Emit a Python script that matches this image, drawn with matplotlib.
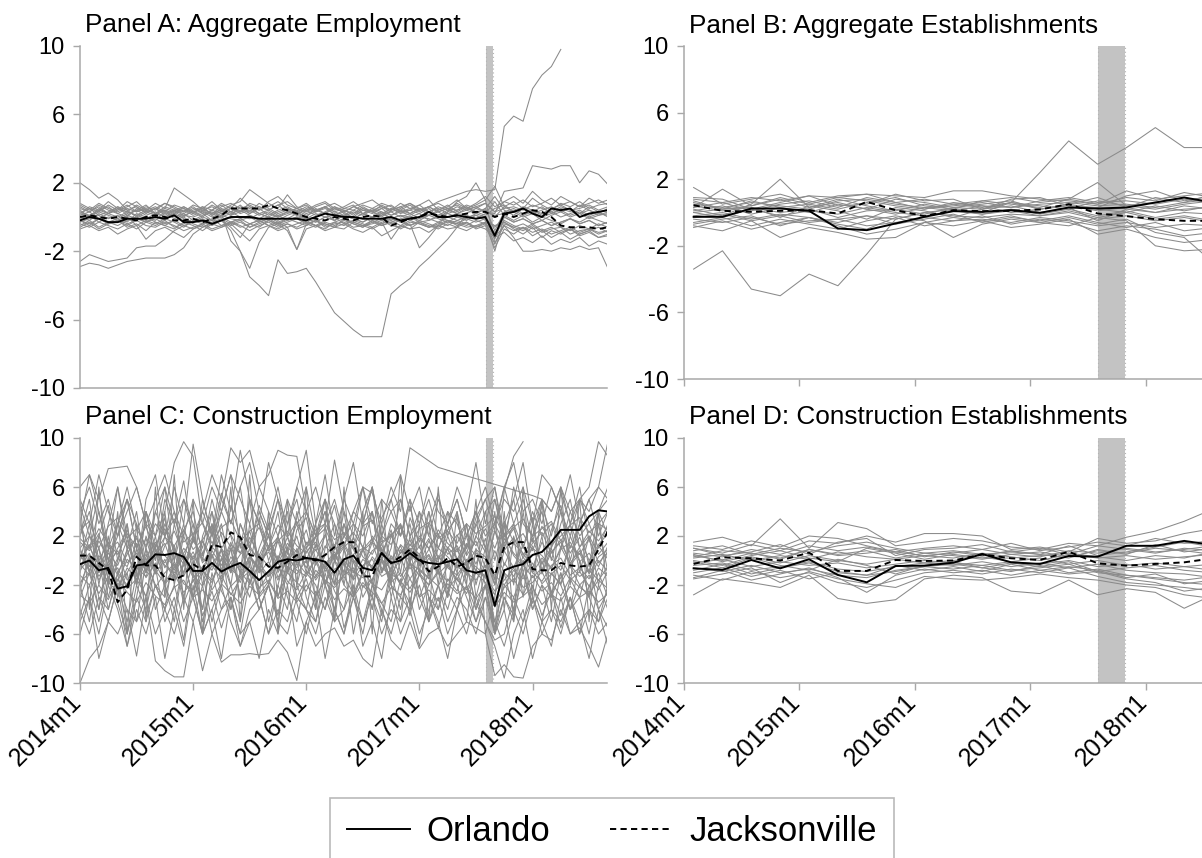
import numpy as np
import matplotlib
matplotlib.use("Agg")
import matplotlib.pyplot as plt
from matplotlib.lines import Line2D
from matplotlib.transforms import ScaledTranslation

plt.rcParams['font.family'] = ['Liberation Sans', 'DejaVu Sans']

nan = np.nan

# ---- x axes ----
months = np.arange(57)                 # 2014m1 .. 2018m9
quarters = np.arange(1, 56, 3)         # mid-quarter months, 2014q1 .. 2018q3
tick_pos = [0, 12, 24, 36, 48]
tick_labels = ["2014m1", "2015m1", "2016m1", "2017m1", "2018m1"]
yticks = [-10, -6, -2, 2, 6, 10]
titles = ["Panel A: Aggregate Employment", "Panel B: Aggregate Establishments",
          "Panel C: Construction Employment", "Panel D: Construction Establishments"]

# ---- Panel A: aggregate employment (monthly) ----
a_orl = [-0.2,0.0,-0.1,-0.3,-0.3,-0.1,-0.1,-0.1,0.0,-0.1,0.1,-0.3,-0.3,-0.2,-0.4,-0.2,0.0,0.0,0.0,-0.1,
         -0.1,-0.1,-0.1,-0.1,-0.2,0.0,0.2,0.1,0.0,0.0,-0.1,-0.1,-0.1,0.0,-0.2,-0.1,0.0,0.3,0.0,0.0,
         0.1,0.0,-0.1,0.0,-1.1,0.2,0.3,0.5,0.2,0.0,0.5,0.4,0.5,0.0,0.2,0.3,0.4]
a_jax = [0.0,0.1,0.0,-0.1,0.0,-0.1,-0.2,0.0,0.1,0.0,-0.2,-0.2,-0.1,-0.3,-0.1,0.1,0.5,0.5,0.5,0.5,
         0.7,0.5,0.4,0.2,0.0,-0.1,-0.2,0.0,-0.1,-0.2,0.0,0.1,0.0,-0.5,-0.3,-0.1,0.0,0.2,0.1,0.0,
         0.1,0.2,0.3,0.3,0.0,0.2,0.0,0.2,0.4,0.3,0.0,-0.5,-0.6,-0.6,-0.6,-0.7,-0.6]
a_gray = [
    [0.5,0.3,0.6,0.2,0.4,0.7,0.3,0.5,0.2,0.6,0.4,0.1,0.3,0.5,0.2,0.6,0.8,0.5,0.7,0.4,0.6,0.9,0.5,0.3,0.6,0.4,0.2,0.5,0.3,0.6,0.4,0.2,0.5,0.7,0.3,0.5,0.4,0.6,0.3,0.5,0.7,0.4,0.6,0.8,0.3,0.5,0.6,0.4,0.7,0.5,0.3,0.6,0.4,0.5,0.7,0.4,0.6],
    [-0.4,-0.6,-0.3,-0.5,-0.7,-0.4,-0.2,-0.5,-0.6,-0.3,-0.5,-0.8,-0.6,-0.4,-0.7,-0.5,-0.3,-0.6,-0.4,-0.2,-0.5,-0.7,-0.4,-0.6,-0.3,-0.5,-0.4,-0.6,-0.7,-0.3,-0.5,-0.4,-0.2,-0.5,-0.6,-0.3,-0.4,-0.6,-0.5,-0.3,-0.4,-0.6,-0.5,-0.3,-1.6,-0.4,-0.6,-0.8,-0.5,-0.9,-0.7,-0.6,-1.0,-0.8,-0.7,-0.9,-0.8],
    [0.1,0.3,-0.1,0.2,0.0,0.3,0.1,-0.1,0.2,0.4,0.0,0.2,-0.2,0.1,0.3,0.0,0.2,0.4,0.1,-0.1,0.2,0.0,0.3,0.1,-0.1,0.2,0.0,0.1,0.3,-0.1,0.2,0.0,0.1,0.3,0.0,0.2,-0.1,0.1,0.3,0.0,0.2,0.1,-0.1,0.2,0.9,0.1,0.3,0.0,0.2,-0.2,0.1,0.3,0.0,0.2,-0.1,0.1,0.2],
    [-0.1,0.1,-0.3,0.0,-0.2,0.1,-0.1,-0.3,0.0,-0.2,0.2,-0.1,-0.3,0.0,-0.2,0.1,-0.1,-0.2,0.0,-0.3,-0.1,0.1,-0.2,0.0,-0.1,-0.3,0.0,-0.2,0.1,-0.1,-0.3,0.0,-0.2,-0.1,0.1,-0.2,0.0,-0.1,-0.3,0.0,-0.2,0.0,0.1,-0.2,-2.0,0.0,-0.3,-0.1,-0.4,-0.2,-0.5,-0.3,-0.1,-0.4,-0.2,-0.5,-0.3],
    [0.7,0.4,0.8,0.5,0.3,0.6,0.9,0.4,0.6,0.3,0.7,0.5,0.2,0.6,0.4,0.8,0.5,1.1,0.6,0.4,0.9,1.2,0.7,0.5,0.3,0.6,0.8,0.4,0.6,0.9,0.5,0.3,0.7,0.4,0.6,0.8,0.5,0.3,0.6,0.4,0.8,0.5,0.7,1.0,1.8,0.6,0.9,0.5,1.1,0.7,0.4,0.8,0.6,0.9,0.5,0.7,0.8],
    [-0.7,-0.5,-0.8,-0.6,-1.0,-0.7,-0.5,-1.3,-0.8,-0.6,-0.9,-1.2,-0.7,-0.5,-0.8,-0.6,-0.4,-0.9,-1.4,-0.7,-0.5,-0.8,-0.6,-1.9,-0.7,-0.5,-0.8,-0.6,-0.4,-0.7,-0.9,-0.6,-1.1,-0.8,-0.5,-0.7,-0.6,-0.9,-0.5,-0.7,-0.6,-0.8,-0.5,-0.7,-1.2,-0.9,-1.4,-1.2,-1.5,-1.1,-1.6,-1.3,-1.5,-1.2,-1.7,-1.4,-1.6],
    [0.3,0.0,0.4,0.6,0.2,0.0,0.5,0.3,0.1,0.4,0.2,0.6,0.3,0.0,0.4,0.2,0.5,0.3,0.6,0.2,0.0,0.3,0.5,0.2,0.4,0.1,0.3,0.6,0.2,0.0,0.4,0.3,0.5,0.1,0.3,0.4,0.2,0.5,0.0,0.3,0.6,0.4,0.2,0.5,-0.8,0.3,0.5,0.2,0.4,0.1,0.3,0.0,0.2,0.4,0.1,0.3,0.0],
    [-0.3,-0.1,0.1,-0.4,-0.2,-0.5,-0.2,0.0,-0.3,-0.5,-0.2,0.0,-0.4,-0.6,-0.3,-0.1,-0.4,-0.2,-0.6,-0.3,-0.1,-0.4,-0.2,0.0,-0.3,-0.5,-0.2,0.0,-0.4,-0.2,0.0,-0.3,-0.5,-0.3,-0.1,0.0,-0.3,-0.2,0.0,-0.2,-0.4,-0.1,-0.3,-0.1,-1.0,-0.2,-0.5,-0.7,-0.4,-0.8,-0.6,-0.9,-0.7,-1.0,-0.8,-0.6,-0.9],
    [0.2,0.6,0.4,0.9,0.5,0.3,0.7,0.4,0.8,0.5,1.7,1.3,0.9,0.4,0.6,0.3,0.7,0.9,1.6,1.2,0.8,0.5,1.3,0.6,0.4,0.7,0.9,0.5,0.3,0.6,0.8,1.0,0.6,0.4,0.8,0.5,0.7,1.0,0.4,0.6,1.0,0.5,0.8,1.2,0.6,0.9,1.2,0.8,1.5,1.0,0.7,1.2,0.9,0.6,1.1,0.8,1.0],
    [-0.5,-0.2,-0.6,-0.3,-0.1,-0.4,-0.7,-0.3,-0.5,-0.2,-0.6,-0.4,-0.1,-0.3,-0.5,-0.2,-0.6,-1.2,-0.4,-0.2,-0.5,-0.3,-0.6,-0.4,-0.2,-0.5,-0.7,-0.3,-0.5,-0.2,-0.4,-0.6,-0.3,-1.3,-0.5,-0.2,-0.4,-0.6,-0.3,-0.5,-0.2,-0.4,-0.6,-0.3,-0.5,-0.3,-0.7,-1.0,-0.6,-1.2,-0.8,-1.0,-0.7,-1.1,-0.9,-1.2,-1.0],
    [0.4,0.0,0.5,0.2,0.6,0.1,0.4,0.7,0.2,0.5,0.3,0.0,0.4,0.6,0.1,0.5,0.3,0.7,0.2,0.5,0.1,0.4,0.6,0.3,0.0,0.5,0.2,0.6,0.4,0.1,0.5,0.3,0.0,0.4,0.6,0.2,0.5,0.1,0.4,0.7,0.3,0.6,0.2,0.5,1.2,0.4,0.1,0.5,0.3,0.6,0.2,0.5,0.3,0.7,0.4,0.2,0.5],
    [-0.6,-0.3,-0.7,-0.4,-0.2,-0.6,-0.4,-0.8,-0.3,-0.5,-0.7,-0.3,-0.5,-0.8,-0.4,-0.6,-0.3,-0.5,-0.8,-0.5,-0.3,-0.6,-0.4,-0.7,-0.5,-0.2,-0.6,-0.4,-0.3,-0.6,-0.5,-0.7,-0.4,-0.2,-0.5,-0.7,-0.3,-0.5,-0.7,-0.4,-0.6,-0.3,-0.7,-0.5,-1.8,-0.7,-1.0,-0.6,-1.1,-0.8,-1.2,-0.9,-1.3,-1.0,-0.8,-1.2,-1.1],
    [0.2,0.5,0.1,0.3,0.6,0.4,0.0,0.3,0.5,0.1,0.4,0.2,0.5,0.3,0.7,0.4,0.1,0.6,0.3,0.8,0.5,0.2,0.4,0.1,0.5,0.3,0.6,0.1,0.4,0.2,0.6,0.3,0.1,0.5,0.2,0.4,0.7,0.3,0.5,0.2,0.4,0.6,0.3,0.1,0.5,0.7,0.3,0.6,0.4,0.2,0.5,0.7,0.4,0.2,0.6,0.3,0.4],
    [-0.2,-0.5,-0.1,-0.4,-0.3,0.0,-0.5,-0.2,-0.4,-0.1,-0.3,-0.6,-0.2,-0.4,-0.1,-0.5,-0.3,-0.1,-0.4,-0.6,-0.2,-0.4,-0.1,-0.3,-0.5,-0.2,-0.4,-0.6,-0.1,-0.3,-0.5,-0.2,-0.4,-0.1,-0.3,-0.5,-0.2,-0.4,-0.6,-0.2,-0.3,-0.5,-0.2,-0.4,-0.9,-0.3,-0.6,-0.4,-0.7,-0.5,-0.3,-0.6,-0.8,-0.5,-0.7,-0.4,-0.6],
    [0.8,0.5,0.3,0.7,0.4,0.9,0.6,0.2,0.5,0.8,0.6,0.3,0.7,0.5,0.9,0.4,0.6,0.3,0.8,0.6,0.4,0.7,0.9,0.5,0.7,0.3,0.6,0.8,0.5,0.4,0.7,0.5,0.8,0.6,0.4,0.7,0.3,0.6,0.8,0.5,0.4,0.7,0.5,0.8,0.3,0.9,0.7,1.0,0.6,0.8,1.1,0.7,0.9,0.6,0.8,1.0,0.7],
    [0.0,-0.2,0.2,-0.1,0.1,-0.3,0.2,0.0,-0.2,0.3,-0.1,0.1,0.0,0.2,-0.2,0.1,0.3,0.0,-0.1,0.2,0.0,-0.2,0.1,0.3,-0.1,0.0,0.2,-0.2,0.1,-0.1,0.2,0.0,0.3,-0.1,0.1,0.0,0.2,-0.2,0.1,0.2,0.0,-0.1,0.2,0.0,-1.3,0.1,-0.2,0.1,-0.3,0.0,-0.2,-0.4,-0.1,-0.3,0.0,-0.2,-0.4],
    [2.0,1.6,1.1,1.4,1.0,0.4,0.6,0.3,0.5,0.2,0.4,0.6,0.3,0.5,0.2,0.4,0.1,0.3,0.5,0.2,0.4,0.1,0.3,0.5,0.2,0.4,0.6,0.3,0.1,0.4,0.2,0.5,0.3,0.1,0.4,0.2,0.5,0.3,0.1,0.4,0.2,0.5,0.3,0.4,0.0,0.6,0.3,0.5,0.2,0.4,0.6,0.3,0.5,0.2,0.4,0.1,0.3],
    [-2.9,-2.7,-2.8,-3.0,-2.8,-2.6,-2.5,-2.4,-2.4,-2.4,-2.2,-1.8,-1.0,-0.6,-0.4,-0.2,-0.5,-0.3,-0.6,-0.4,-0.2,-0.5,-0.3,-0.1,-0.4,-0.6,-0.3,-0.5,-0.2,-0.4,-0.6,-0.3,-0.1,-0.4,-0.2,-0.5,-0.3,-0.6,-0.4,-0.2,-0.5,-0.3,-0.6,-0.4,-1.2,-0.5,-0.8,-0.6,-0.9,-0.7,-1.0,-0.8,-0.6,-0.9,-0.7,-1.0,-0.8],
    [-2.6,-2.2,-2.4,-2.6,-2.5,-2.4,-1.8,-1.7,-1.7,-1.3,-0.8,-0.5,-0.7,-0.4,-0.2,0.0,-0.3,-0.1,0.1,-0.2,0.0,-0.3,-0.1,0.2,-0.1,-0.3,0.0,-0.2,0.1,-0.1,-0.3,0.0,0.2,-0.1,-0.3,0.0,-0.2,0.1,-0.1,-0.3,0.0,-0.2,0.1,-0.1,-0.6,0.0,-0.3,-0.1,-0.4,-0.2,-0.5,-0.3,-0.1,-0.4,-0.2,-0.5,-0.3],
    [0.2,0.0,0.3,0.1,-0.1,0.2,0.4,0.1,0.3,0.0,0.2,0.4,0.1,0.3,0.0,0.2,-1.4,-2.0,-3.5,-4.0,-4.6,-2.5,-3.3,-3.2,-3.0,-3.8,-4.7,-5.6,-6.1,-6.6,-7.0,-7.0,-7.0,-4.5,-4.0,-3.6,-2.9,-2.4,-1.85,-1.3,-0.6,0.2,0.5,0.3,0.1,0.2,0.4,0.1,0.3,0.0,0.2,0.4,0.1,0.3,0.0,0.2,0.1],
    [0.3,0.1,0.4,0.2,0.5,0.3,0.1,0.4,0.2,0.0,0.3,0.5,0.2,0.4,0.1,0.3,0.5,0.2,0.4,0.1,0.3,0.0,0.2,0.4,0.1,0.3,0.5,0.2,0.0,0.3,0.1,0.4,0.2,0.5,0.3,0.1,0.4,0.6,0.9,1.1,1.3,1.5,1.6,1.5,1.6,5.3,5.9,5.6,7.5,8.3,8.8,9.8,nan,nan,nan,nan,nan],
    [0.6,0.3,0.7,0.4,0.2,0.5,0.3,0.6,0.4,0.8,0.5,0.3,0.6,0.2,0.4,0.7,0.3,0.5,0.2,0.6,0.4,0.7,0.3,0.5,0.8,0.4,0.6,0.3,0.5,0.7,0.2,0.4,0.6,0.3,0.5,0.8,0.4,0.6,0.3,0.5,0.2,0.4,0.6,0.3,0.2,1.5,1.6,1.7,3.0,2.9,2.8,3.0,3.0,2.0,2.7,2.5,1.9],
    [-0.2,-0.4,-0.1,-0.3,-0.5,-0.2,0.0,-0.3,-0.1,-0.4,-0.2,-0.5,-0.3,-0.1,-0.4,-0.2,-0.8,-2.0,-3.0,-1.5,-0.6,-0.4,-0.8,-1.9,-0.4,-0.2,-0.5,-0.3,-0.1,-0.4,-0.6,-0.2,-0.5,-0.3,-0.7,-0.4,-1.8,-1.2,-0.5,0.3,0.9,1.2,2.0,1.0,-1.5,-0.5,-1.2,-2.0,-2.0,-1.9,-2.0,-1.8,-1.9,-1.7,-1.9,-1.8,-3.0],
]

# ---- Panel B: aggregate establishments (quarterly) ----
b_orl = [-0.26,-0.26,0.24,0.24,0.1,-0.96,-1.06,-0.66,-0.26,0.08,0.04,0.14,-0.02,0.3,0.24,0.3,0.6,0.9,0.6]
b_jax = [0.44,0.1,0.04,0.1,0.14,-0.06,0.64,0.14,-0.22,0.14,0.08,0.1,0.18,0.5,-0.06,-0.22,-0.4,-0.5,-0.5]
b_gray = [
    [0.5,0.3,0.6,0.4,0.2,0.7,0.8,0.5,0.3,0.4,0.6,0.3,0.5,0.6,0.4,0.5,0.3,0.6,0.8],
    [-0.4,-0.6,-0.3,-0.7,-0.5,-0.4,-0.8,-0.6,-0.3,-0.5,-0.4,-0.6,-0.3,-0.5,-0.8,-0.6,-0.9,-0.7,-0.8],
    [0.1,0.4,-0.1,0.3,0.0,0.5,0.2,-0.1,0.3,0.1,0.4,0.0,0.2,0.4,0.1,0.3,0.0,0.2,0.3],
    [-0.2,0.0,-0.4,-0.1,-0.3,-0.6,-0.2,-0.4,0.0,-0.2,-0.3,-0.1,-0.2,0.0,-0.4,-0.2,-0.5,-0.3,-0.6],
    [1.5,0.5,0.8,1.1,0.6,1.0,1.1,1.0,0.9,1.3,1.3,1.0,0.8,0.7,0.5,1.3,0.8,1.0,1.2],
    [-0.8,-1.1,-0.5,-1.5,-0.9,-1.2,-1.6,-1.5,-0.6,-0.8,-0.5,-0.9,-0.7,-0.4,-1.3,-1.0,-1.5,-1.8,-1.6],
    [0.3,1.4,0.4,0.9,0.5,0.2,0.6,0.9,0.4,0.2,0.7,0.5,0.3,0.8,1.8,0.4,0.2,0.5,0.7],
    [-0.6,-0.3,-0.8,-0.4,-0.7,-1.0,-0.5,-0.2,-0.5,-1.5,-0.7,-0.4,-0.6,-0.8,-0.3,-0.5,-2.0,-2.3,-2.2],
    [0.2,-0.2,0.5,2.0,0.3,0.8,0.4,0.1,0.5,0.2,0.0,0.6,0.2,0.5,0.2,0.0,0.4,0.1,0.4],
    [-0.9,-0.5,-1.0,-0.6,-0.3,-0.8,-1.3,-1.0,-0.6,-0.3,-0.5,-0.2,-0.6,-0.3,-0.7,-0.4,-1.2,-1.5,-3.0],
    [-3.4,-2.3,-4.6,-5.0,-3.7,-4.4,-2.5,-0.4,0.0,0.2,-0.1,0.1,-0.2,0.1,-0.3,0.0,-0.4,-0.2,-0.5],
    [0.4,0.1,0.3,0.0,0.2,-0.3,0.1,0.2,-0.1,0.3,0.2,0.6,2.4,4.3,2.9,3.9,5.1,3.9,3.9],
    [0.8,0.6,0.9,0.7,1.0,0.9,1.1,0.6,0.8,0.5,0.7,0.9,0.6,0.8,0.5,0.9,0.7,1.2,0.9],
    [0.0,-0.3,0.2,-0.2,0.1,-0.1,0.3,0.0,-0.2,0.1,-0.1,0.2,-0.1,0.2,-0.2,0.1,-0.3,0.0,-0.1],
    [0.6,0.2,0.7,0.3,0.5,0.9,0.7,0.4,0.2,0.6,0.4,0.3,0.7,0.9,0.6,0.7,0.5,0.8,0.6],
    [0.3,0.6,0.1,0.5,0.7,0.3,0.9,0.6,0.2,0.5,0.3,0.6,0.4,0.2,0.7,0.4,0.6,0.9,0.5],
    [-0.3,-0.1,-0.5,-0.2,-0.6,-0.4,-0.2,-0.7,-0.4,-0.1,-0.6,-0.3,-0.5,-0.2,-0.6,-0.9,-0.6,-1.1,-0.9],
    [0.7,0.2,0.4,0.8,0.3,0.6,0.2,0.8,0.6,0.3,0.5,0.7,0.2,0.5,0.9,0.3,0.9,0.6,1.1],
    [-0.7,-0.4,-0.2,-0.8,-0.3,-0.7,-1.0,-0.3,-0.8,-0.5,-0.2,-0.7,-0.4,-0.6,-1.1,-0.8,-1.0,-1.4,-1.2],
    [0.0,0.2,0.3,-0.3,0.4,0.1,-0.4,0.3,0.1,-0.3,0.2,0.4,0.0,0.3,-0.5,0.2,0.0,0.4,0.2],
    [0.9,0.8,0.2,0.6,1.0,0.4,0.5,1.1,0.7,0.8,0.2,0.8,0.9,0.4,0.3,1.0,1.3,0.7,1.0],
]

# ---- Panel C: construction employment (monthly) ----
c_orl = [-0.3,0.0,-0.8,-0.6,-2.3,-2.1,-0.4,-0.3,0.5,0.45,0.6,0.3,-0.85,-0.85,-0.2,-0.9,-0.5,-0.2,-0.85,-1.6,
         -0.9,-0.1,0.1,0.0,0.2,0.1,-0.1,-1.0,0.1,0.4,-0.6,-0.8,0.6,-0.2,0.0,0.6,0.0,-0.2,-0.3,-0.1,
         0.1,-0.8,-1.0,-0.8,-3.7,-0.8,-0.5,-0.3,0.45,0.7,1.5,2.5,2.5,2.5,3.6,4.1,4.0]
c_jax = [0.4,0.4,-0.2,-0.8,-3.4,-2.4,0.3,-0.4,-0.4,-1.4,-1.6,-1.2,-0.3,-0.8,1.3,1.1,2.3,1.9,0.45,0.3,
         -0.5,-0.6,-0.1,0.45,0.2,0.0,0.45,1.1,1.5,1.5,-1.3,-1.3,0.6,-0.2,0.3,0.9,0.2,-0.9,-0.5,0.2,
         -0.5,-0.2,0.4,0.2,-1.2,1.1,1.5,1.5,-0.7,-0.8,-0.8,-0.2,-0.4,-0.5,-0.4,0.9,2.4]
c_gray = [
    [1.5,0.8,2.2,-0.5,1.0,2.5,0.3,1.8,-0.8,1.2,2.4,0.5,-1.0,1.6,0.2,2.3,1.1,-0.6,1.9,0.4,2.1,-0.3,1.4,0.7,2.5,-0.4,1.2,0.3,2.0,0.9,-0.7,1.5,0.6,2.2,-0.2,1.3,0.5,1.8,-0.5,1.0,2.1,0.4,1.6,-0.6,2.4,0.8,1.9,0.2,1.4,2.3,0.6,1.7,-0.3,1.1,2.0,0.5,1.5],
    [-1.2,-2.0,-0.4,-1.8,-2.5,-0.6,-1.5,0.2,-2.2,-1.0,-0.3,-1.9,-2.4,-0.8,-1.6,0.1,-2.1,-1.3,-0.5,-2.3,-1.1,0.3,-1.7,-2.4,-0.9,-1.4,-0.2,-2.0,-1.2,-0.6,-2.2,-1.5,0.0,-1.8,-1.0,-2.3,-0.7,-1.4,-2.1,-0.4,-1.6,-2.4,-0.8,-1.3,-2.5,-1.6,-0.6,-2.2,-1.8,-0.9,-2.6,-1.4,-0.5,-2.0,-1.2,-2.4,-0.8],
    [0.5,-0.8,1.0,-1.5,0.2,-0.5,1.4,-1.0,0.6,-0.2,1.2,-1.3,0.4,-0.9,0.8,-0.4,1.5,-1.1,0.3,-0.7,1.1,-1.4,0.0,0.9,-0.6,1.3,-0.3,0.7,-1.2,0.5,1.0,-0.8,0.2,-1.5,0.9,-0.1,1.2,-0.9,0.4,-0.5,1.0,-1.2,0.6,0.1,-2.0,0.8,-0.6,1.3,-1.0,0.2,-0.7,1.1,-0.4,0.6,-1.1,0.3,0.9],
    [2.5,3.2,1.0,2.8,3.5,1.8,2.6,1.2,3.0,2.0,3.4,1.5,2.2,3.1,1.4,2.7,3.3,1.6,2.4,3.0,1.1,2.9,1.9,3.2,1.3,2.5,3.0,1.7,2.3,1.0,2.8,3.3,1.5,2.1,2.9,1.2,2.6,3.1,1.8,2.4,1.4,3.0,2.2,2.8,3.6,1.9,2.7,3.4,2.0,2.6,3.2,1.6,2.9,3.5,2.3,3.0,2.5],
    [-2.8,-3.5,-2.0,-3.2,-1.5,-2.6,-3.4,-1.8,-2.9,-3.6,-2.2,-1.6,-3.0,-2.4,-3.3,-1.9,-2.7,-3.5,-2.1,-2.8,-1.7,-3.1,-2.5,-3.4,-2.0,-2.9,-1.6,-3.2,-2.3,-3.0,-1.8,-2.6,-3.5,-2.2,-2.8,-1.5,-3.0,-2.4,-3.3,-1.9,-2.7,-2.2,-3.1,-2.0,-3.8,-2.6,-3.4,-2.9,-2.2,-3.6,-2.8,-3.3,-2.1,-3.0,-2.5,-3.4,-2.7],
    [0.0,1.3,-1.0,0.6,-0.4,1.7,-1.3,0.3,1.5,-0.6,0.9,-1.1,1.8,0.2,-0.8,1.0,-0.2,1.4,-1.2,0.5,-0.5,1.6,-0.9,0.2,1.1,-1.3,0.4,1.3,-0.4,-1.0,0.8,1.5,-0.9,0.1,1.2,-0.7,0.5,-1.3,1.0,0.3,-0.6,1.4,-0.3,1.8,-1.6,2.2,0.4,-0.5,1.2,-1.1,0.7,1.5,-0.2,0.8,-0.9,1.2,0.1],
    [1.0,2.0,0.0,1.5,-1.0,0.5,2.0,-0.5,1.2,2.6,0.8,-0.3,1.6,0.4,2.2,-0.8,1.3,0.6,2.4,-0.2,1.0,1.9,0.2,-0.6,1.5,0.8,2.1,-0.1,1.1,1.8,0.3,-0.5,1.4,2.0,0.6,1.7,-0.4,0.9,2.2,0.5,1.2,-0.2,2.0,0.7,3.0,1.4,2.6,0.4,1.8,-0.3,1.1,2.4,0.6,1.9,0.0,1.3,2.2],
    [-0.8,0.2,-1.6,-0.3,-2.0,-1.0,0.4,-1.4,-0.2,-1.8,-0.6,0.5,-1.2,-2.1,-0.4,-1.5,0.3,-0.9,-1.9,-0.2,-1.3,-0.5,-2.0,-0.1,-1.1,0.2,-1.7,-0.7,-0.2,-1.6,-0.4,0.1,-1.3,-0.8,-1.9,-0.3,-1.2,0.2,-0.9,-1.7,-0.5,-1.0,-1.6,-0.4,-1.2,-2.0,-0.8,-1.5,-0.2,-1.9,-1.1,-0.4,-1.6,-0.9,-2.1,-0.6,-1.3],
    [0.8,-0.5,1.6,0.2,-1.2,0.9,1.8,-0.3,0.5,1.4,-0.8,0.6,2.0,-0.2,1.1,0.3,-1.0,1.7,0.4,-0.6,1.2,0.0,1.9,-0.4,0.7,1.5,-0.9,0.3,1.2,-0.2,0.9,1.8,0.1,-0.7,1.3,0.5,-0.3,1.6,0.2,0.9,-0.5,1.3,0.4,-0.9,2.5,-0.4,1.4,0.6,-0.6,1.5,0.2,-0.8,1.2,0.5,1.8,-0.2,0.7],
    [-0.5,0.6,-1.3,-0.2,0.8,-1.6,-0.6,0.5,-1.1,0.1,-1.7,-0.4,0.7,-0.9,-1.8,0.2,-0.7,-1.4,0.4,-1.0,-0.1,-1.6,0.3,-0.8,-1.3,0.1,-0.5,-1.9,0.0,-0.9,-1.4,0.3,-0.6,-1.2,0.2,-1.5,-0.4,0.4,-1.1,-0.3,-1.6,0.1,-0.8,-1.4,-2.8,-0.2,-1.3,0.3,-1.0,-1.7,-0.4,0.2,-1.2,-0.6,-1.5,0.0,-0.9],
    [1.8,1.0,2.6,1.4,0.5,2.2,1.1,2.8,0.7,1.9,1.2,2.5,0.9,1.7,2.9,1.0,2.1,0.6,1.5,2.7,0.8,1.6,2.4,1.2,0.6,1.9,2.6,0.9,1.4,2.3,1.1,0.5,2.0,1.3,2.7,0.8,1.8,1.0,2.5,1.4,0.7,2.1,1.2,2.6,1.0,3.2,1.5,2.2,0.8,2.8,1.3,2.0,2.9,1.1,2.4,1.6,2.8],
    [-1.8,-1.0,-2.7,-1.3,-0.6,-2.3,-1.5,-2.9,-0.8,-1.9,-1.1,-2.6,-1.7,-0.7,-2.4,-1.2,-2.8,-1.5,-0.9,-2.2,-1.6,-2.9,-1.0,-1.8,-2.5,-0.8,-1.6,-2.2,-1.3,-2.7,-0.9,-1.9,-2.4,-1.1,-1.7,-2.6,-1.2,-2.0,-0.8,-2.3,-1.4,-2.7,-1.0,-1.8,-3.5,-2.2,-1.5,-2.8,-1.2,-2.5,-1.8,-2.9,-1.4,-2.2,-2.7,-1.6,-2.3],
    [0.2,1.1,-0.4,0.9,1.5,-0.2,0.6,-0.9,1.3,0.4,-0.5,1.0,0.1,1.6,-0.3,0.8,-0.7,0.5,1.2,-0.1,0.7,-0.8,1.1,0.3,-0.2,0.9,-0.6,0.4,1.4,0.0,-0.5,0.8,1.3,-0.4,0.6,1.0,-0.2,0.5,-0.8,1.1,0.2,-0.4,0.9,0.3,-1.5,1.8,0.6,-0.3,1.0,0.4,-0.6,0.9,1.5,-0.1,0.6,-0.5,1.2],
    [-0.3,-1.2,0.4,-0.8,-1.7,0.1,-0.6,-1.3,0.6,-0.4,-1.0,0.3,-1.4,-0.5,0.5,-1.1,-0.2,-1.8,0.2,-0.7,-1.3,0.4,-0.5,-1.1,0.0,-1.6,-0.4,0.5,-0.9,-1.4,0.1,-0.6,-1.0,0.4,-1.3,-0.2,-0.8,-1.5,0.3,-0.6,-1.2,0.0,-0.5,-1.3,0.8,-1.0,-1.8,-0.3,-1.4,-0.6,-1.1,-1.9,-0.4,-1.3,-0.8,-1.6,-0.5],
    [4,6,3,5,2,4,6,3,5,7,4,2,5,3,6,4,7,5,3,6,4,2,5,3,4,6,3,5,2,4,6,3,5,4,2,5,3,6,4,3,5,2,4,6,3,5,4,6,3,5,4,6,3,5,4,6,5],
    [-4,-6,-3,-5,-2,-4,-5,-3,-6,-4,-2,-5,-3,-6,-4,-2,-5,-7,-4,-3,-6,-4,-5,-2,-4,-6,-3,-5,-4,-2,-5,-3,-6,-4,-5,-3,-6,-4,-2,-5,-3,-4,-6,-3,-5,-7,-4,-6,-3,-5,-4,-6,-3,-5,-4,-6,-5],
    [2,5,-1,3,6,1,-2,4,2,6,0,3,-1,5,2,4,7,1,5,-1,3,6,2,0,4,1,5,-2,3,1,4,6,0,3,2,5,-1,4,1,3,5,2,-1,4,5,1,6,3,2,5,1,4,0,3,5,2,4],
    [-2,-5,0,-4,-1,-6,-3,1,-4,-2,-5,0,-3,-6,-1,-4,-2,-5,0,-3,-6,-2,-4,1,-3,-5,-1,-4,0,-6,-2,-3,-5,-1,-4,0,-3,-5,-2,-4,-1,-3,-5,-2,-6,-3,-5,0,-4,-2,-5,-1,-4,-3,-6,-2,-4],
    [5,3,7,4,2,5,3,1,4,6,3,5,2,4,7,5,3,6,8,4,2,5,3,6,4,2,5,3,1,4,3,6,2,4,5,2,3,5,2,4,3,1,4,2,3,6,8,4,5,3,6,4,2,5,3,4,6],
    [-5,-3,-6,-2,-4,-7,-3,-5,-2,-4,-6,-3,-5,-2,-6,-4,-3,-7,-5,-4,-2,-5,-6,-3,-4,-5,-2,-4,-6,-3,-5,-2,-4,-6,-3,-4,-2,-5,-3,-6,-4,-2,-5,-3,-6,-4,-8,-5,-3,-6,-4,-5,-3,-6,-4,-5,-3],
    [3,1,4,0,2,5,1,3,-1,2,4,0,3,1,5,2,-1,3,1,4,2,0,3,5,1,2,4,0,2,3,1,4,-1,2,3,0,4,2,1,3,0,2,4,1,5,2,3,1,4,2,3,1,4,2,3,1,3],
    [-3,-1,-4,0,-2,-5,-1,-3,1,-2,-4,0,-3,-1,-5,-2,1,-3,-1,-4,-2,0,-3,-5,-1,-2,-4,0,-2,-3,-1,-4,1,-2,-3,0,-4,-2,-1,-3,0,-2,-4,-1,-5,-2,-3,-1,-4,-2,-3,-1,-4,-2,-3,-1,-3],
    [3.5,-1,2,4.5,0,3,-2,4,1,3.5,-1.5,2.5,4,0.5,3,-1,4.5,2,-0.5,3.5,1,4,-1,2.5,3.5,0,2,4.5,1,-1.5,3,4,0.5,2.5,-1,3.5,1.5,4,0,2.5,3.5,-0.5,2,4,0,3,5,1,3.5,-1,2.5,4.5,1,3,-0.5,4,2],
    [-2.5,0.5,-3,-4,-1,-2,1,-4.5,-2,-3,0,-3.5,-1.5,-4,0.5,-2.5,-4,-1,1,-3,-2,-4.5,0,-3,-1.5,-4,-0.5,-2.5,-4,0,-3,-1.5,-4.5,-0.5,-2,-3.5,0.5,-3,-4,-1.5,-2.5,0,-4,-2,-5.5,-3,-4.5,-1,-3.5,0,-2.5,-4.5,-1.5,-3,0,-4,-2.5],
    [2,4,0,-2,3,5,1,-1,4,2,0,5,3,-2,1,4,2,-1,5,3,0,2,4,-2,1,3,5,0,-1,3,2,4,-1,1,5,2,0,3,-2,4,1,-1,3,5,6,1,3,-1,2,4,0,3,5,1,-1,3,4],
    [-2,0,-4,1,-3,-1,-5,0,-2,-4,1,-3,0,-5,-2,1,-4,-1,-3,0,-5,-2,1,-3,-4,0,-2,-5,1,-3,-1,-4,0,-2,-5,1,-3,-1,-4,0,-2,-5,1,-2,-6,-1,-4,0,-3,-5,-1,-2,-4,0,-3,-5,-2],
    [4.5,2,5.5,1,3,6,2.5,4,0,5,3,6.5,1.5,4,2,5.5,3,6,1,4.5,2.5,5,0.5,3.5,6,2,4,1,5,3,6,1.5,3.5,5,2,4.5,1,3,5.5,2,4,0.5,3.5,5,2.5,6,3,5,1.5,4.5,2,5.5,3,6,1.5,4,5],
    [-4.5,-2,-5,-1.5,-3.5,-6,-2,-4,-0.5,-5,-3,-6.5,-1,-4.5,-2.5,-5.5,-3,-6,-1.5,-4,-2,-5,-0.5,-3.5,-6,-2.5,-4,-1,-5.5,-3,-6,-2,-3.5,-5,-1.5,-4.5,-1,-3,-5.5,-2.5,-4,-0.5,-3.5,-5,-6.5,-6,-3,-5,-2,-4.5,-2.5,-5.5,-3,-6,-2,-4,-5.5],
    [0,3,-2,2,-3,1,4,-1,2,-2,3,0,-3,2,4,-1,1,-3,3,0,-2,2,-1,4,0,-3,1,3,-2,2,-1,-3,3,0,-2,2,4,-1,0,-3,2,3,-2,1,-6,3,-2,4,-1,2,-3,1,3,-1,2,-2,1],
    [-1,2,1,-3,0,3,-2,1,-1,4,-2,2,0,-4,1,3,-1,2,-2,1,3,-3,0,2,-1,3,-2,0,4,-1,1,-2,2,-3,0,3,-1,-2,2,1,-1,3,-3,0,4,-4,2,-3,3,-1,1,-2,2,0,-3,3,-1],
    [6,7,5,7.5,7.6,7.7,6,3,2,4,8,9.7,8.5,3,1,5,9.2,8,9,6,7,9,8.6,8.5,4,2,3,8.2,4,2,6,5.5,3,6,4,9.2,nan,nan,7.6,nan,nan,nan,nan,nan,nan,nan,nan,nan,5.3,5,4,6,4,5,6,9.7,8.5],
    [-10,-8,-7,-5,-6,-4,-7.8,-3,-8.2,-9,-9.5,-9.5,-5,-9,-6,-8.3,-7.7,-7.7,-7.6,-7.7,-7.6,-6.5,-7.5,-9.8,-5,-7,-6,-5.5,-7,-6.5,-8,-8.7,-4,-6.5,-7.3,-5,-7.2,-6,-5.5,-7,-6,-5,-5.5,-6,-9.4,-8.5,-9.5,-9.6,-7,-6,-6.5,-4,-6,-5.5,-7,-8.7,-6],
    [3,7,4,1,6,2,-1,5,7,2,6,3,9.5,5,2,7,4,9,5,3,8,5,2,6,9,3,7,2,5,8,3,6,2,5,7,4,6,2,5,3,6,4,8,3,6,2,5,8,3,7,6,4,7,3,5,6,9.7],
    [-6,-3,-8,-5,-2,-7,-4,-6,-3,-8,-4,-7,-2,-6,-4,-8,-3,-6,-5,-8,-4,-6,-2,-7,-5,-3,-8,-4,-6,-2,-7,-5,-8,-3,-6,-4,-7,-3,-5,-8,-4,-6,-3,-5,-7,-9.6,-6,-4,-8,-5,-7,-3,-6,-5,-8,-4,-7],
    [1,-1,2,0,3,1,-2,2,0,3,1,-1,2,0,4,1,-2,3,1,0,2,-1,1,3,0,2,-2,1,3,0,-1,2,1,-1,3,0,2,1,-1,2,0,1,3,1,-2,5.7,8.5,9.7,nan,nan,nan,nan,nan,nan,nan,nan,nan],
    [5,-4,6,-2,4,-6,3,-5,6,-3,7,-4,5,-6,3,-2,6,-5,7,-3,4,-6,5,-2,6,-4,3,-5,6,-3,4,-6,5,-2,7,-4,3,-5,6,-3,4,-2,5,-6,-3,4,-5,6,-3,5,-4,6,-2,5,-5,4,-3],
]

# ---- Panel D: construction establishments (quarterly) ----
d_orl = [-0.64,-0.77,0.04,-0.64,0.1,-1.18,-1.78,-0.45,-0.42,-0.18,0.53,-0.15,-0.28,0.37,0.31,1.2,1.2,1.6,1.26]
d_jax = [-0.28,0.26,0.18,0.0,0.64,-0.85,-0.85,0.04,-0.04,0.0,0.5,0.18,0.04,0.72,-0.23,-0.42,-0.28,-0.15,0.18]
d_gray = [
    [0.6,0.3,0.9,0.5,1.2,0.8,1.1,0.7,0.4,0.6,0.9,0.5,0.3,0.8,0.6,1.0,0.7,0.9,1.2],
    [-0.6,-0.9,-0.4,-1.0,-0.7,-1.2,-1.4,-0.8,-0.5,-0.7,-0.4,-0.8,-0.6,-0.3,-1.0,-1.2,-1.4,-1.6,-1.3],
    [0.2,0.5,0.0,0.4,0.1,0.7,0.3,0.1,0.4,0.2,0.6,0.3,0.0,0.5,0.2,0.4,0.1,0.3,0.5],
    [-0.2,0.1,-0.5,-0.1,-0.4,-0.2,-0.6,-0.3,0.0,-0.2,-0.4,-0.1,-0.3,0.0,-0.5,-0.3,-0.7,-0.5,-0.8],
    [1.5,1.9,1.2,3.4,1.0,3.1,2.6,1.2,1.5,1.8,1.6,1.1,0.9,1.4,1.2,1.9,2.4,3.2,4.2],
    [-2.8,-1.5,-1.8,-2.2,-1.2,-3.1,-3.5,-3.2,-1.5,-1.2,-1.4,-2.5,-2.7,-1.6,-2.8,-2.3,-2.6,-3.9,-2.8],
    [1.0,0.6,1.3,0.8,1.6,1.4,2.0,1.5,2.2,2.2,2.0,0.9,1.1,0.7,1.8,1.4,1.6,2.2,2.6],
    [-1.2,-1.6,-0.9,-1.4,-1.0,-1.8,-2.2,-1.6,-1.0,-0.8,-1.1,-0.7,-1.0,-0.6,-1.3,-1.8,-2.0,-2.2,-2.5],
    [0.4,0.0,0.6,0.2,0.9,0.5,0.8,0.2,0.6,0.4,0.1,0.5,0.7,0.3,0.8,0.6,1.0,0.8,0.5],
    [-0.4,-0.2,-0.8,-0.5,-0.1,-0.7,-0.9,-0.5,-0.2,-0.4,-0.1,-0.5,-0.2,-0.6,-0.3,-0.8,-1.0,-1.1,-1.4],
    [0.8,1.2,0.5,1.0,0.7,1.2,1.5,1.0,0.6,0.8,0.5,0.7,1.0,0.5,1.2,0.9,0.6,1.0,0.8],
    [-1.0,-0.6,-1.3,-0.8,-1.5,-1.0,-1.2,-0.9,-0.5,-0.3,-0.6,-0.9,-0.4,-1.0,-0.7,-1.2,-1.5,-1.8,-2.0],
    [0.0,-0.4,0.3,-0.2,0.4,0.0,-0.3,0.1,-0.2,0.0,0.3,-0.1,0.2,-0.3,0.0,-0.4,-0.2,-0.5,-0.3],
    [1.2,0.9,1.6,1.1,2.0,1.8,1.2,0.7,1.0,1.2,0.9,1.4,0.8,1.1,1.5,1.2,1.8,1.4,1.6],
    [-1.5,-1.1,-0.6,-1.8,-0.9,-1.5,-1.9,-2.2,-1.3,-1.5,-1.6,-1.4,-1.1,-1.4,-1.6,-2.0,-2.2,-2.8,-3.1],
    [0.3,0.8,0.6,0.1,0.9,0.4,0.6,0.9,0.3,0.7,0.4,0.8,0.5,0.2,0.9,0.5,1.3,0.7,1.0],
    [-0.8,-0.3,-1.1,-0.6,-0.2,-0.9,-1.2,-0.4,-0.8,-0.5,-0.9,-0.3,-0.8,-0.5,-0.8,-1.4,-1.1,-1.9,-1.6],
    [1.0,0.4,0.7,1.3,0.5,1.5,1.8,0.4,0.9,1.0,1.3,0.7,0.5,1.2,0.4,0.7,1.1,1.5,1.1],
    [-0.1,-0.6,0.2,-0.4,-0.8,0.1,-0.4,-1.1,-0.4,-0.1,-0.6,-0.2,-0.5,-0.1,-0.9,-0.6,-0.4,-0.8,-1.0],
    [0.5,-0.1,0.4,0.8,0.2,-0.1,1.0,0.6,0.1,0.5,0.2,0.2,0.4,0.6,0.3,0.0,0.4,0.2,0.7],
    [-1.4,-0.8,-1.6,-1.1,-0.6,-1.4,-2.6,-1.2,-0.7,-1.0,-0.8,-1.2,-0.8,-1.1,-0.9,-1.5,-1.8,-2.5,-2.2],
]

# hurricane window shading (in months since 2014m1)
band_monthly = (43.1, 43.8)
band_quarterly = (43.05, 45.85)

W, H = 1202, 858
GRAY = "#8a8a8a"
AXC = "#a8a8a8"


def add_axes(fig, left, top, right, bottom):
    return fig.add_axes([left / W, 1 - bottom / H, (right - left) / W, (bottom - top) / H])


def draw(ax, x, y, **kw):
    y = np.asarray(y, dtype=float)
    n = min(len(x), len(y))
    x = np.asarray(x[:n], dtype=float)
    y = y[:n]
    ok = ~np.isnan(y)
    ax.plot(x[ok], y[ok], **kw)


def style(ax, xmax, band, xlabels, xticks_on=True):
    ax.set_xlim(0, xmax)
    ax.set_ylim(-10, 10)
    ax.axvspan(band[0], band[1], color="#c3c3c3", lw=0, zorder=0)
    for b in band:
        ax.axvline(b, color="#b4b4b4", lw=0.8, ls=(0, (1, 2.5)), zorder=0)
    for s in ["top", "right"]:
        ax.spines[s].set_visible(False)
    for s in ["left", "bottom"]:
        ax.spines[s].set_color(AXC)
        ax.spines[s].set_linewidth(1.1)
    ax.set_yticks(yticks)
    ax.set_yticklabels([str(v) for v in yticks])
    ax.tick_params(axis="y", direction="out", length=5, width=1.0, color=AXC,
                   labelsize=17, pad=6)
    ax.set_xticks(tick_pos)
    ax.tick_params(axis="x", labelbottom=False, direction="out",
                   length=5 if xticks_on else 0, width=1.0, color=AXC)
    if xlabels:
        # rotated labels whose top-right corner sits just below-left of the tick
        off = ScaledTranslation(-0.11, -0.07, ax.figure.dpi_scale_trans)
        for pos, lab in zip(tick_pos, tick_labels):
            ax.text(pos, 0, lab, transform=ax.get_xaxis_transform() + off,
                    rotation=45, rotation_mode="anchor", ha="right", va="top",
                    fontsize=18, clip_on=False)


def panel(ax, x, gray, orl, jax):
    for g in gray:
        draw(ax, x, g, color=GRAY, lw=0.75, zorder=2)
    draw(ax, x, orl, color="black", lw=1.4, zorder=4)
    draw(ax, x, jax, color="black", lw=1.4, dashes=(3.2, 2.2), zorder=4)


fig = plt.figure(figsize=(W / 100, H / 100), dpi=100)

axA = add_axes(fig, 80, 46, 607, 388)
axB = add_axes(fig, 684, 46, 1202, 379)
axC = add_axes(fig, 80, 438, 607, 683)
axD = add_axes(fig, 684, 438, 1202, 683)

panel(axA, months, a_gray, a_orl, a_jax)
panel(axB, quarters, b_gray, b_orl, b_jax)
panel(axC, months, c_gray, c_orl, c_jax)
panel(axD, quarters, d_gray, d_orl, d_jax)

style(axA, 55.9, band_monthly, False, xticks_on=False)
style(axB, 53.85, band_quarterly, False)
style(axC, 55.9, band_monthly, True)
style(axD, 53.85, band_quarterly, True)

title_xy = [(85, 25), (689, 26), (85, 417), (689, 417)]
for t, (tx, ty) in zip(titles, title_xy):
    fig.text(tx / W, 1 - ty / H, t, fontsize=18.8, ha="left", va="center")

handles = [Line2D([], [], color="black", lw=1.4),
           Line2D([], [], color="black", lw=1.4, dashes=(3.2, 2.2))]
leg = fig.legend(handles, ["Orlando", "Jacksonville"], loc="upper center",
                 bbox_to_anchor=(612 / W, 1 - 798 / H), ncol=2, frameon=True,
                 fancybox=False, edgecolor=AXC, fontsize=25, handlelength=1.8,
                 handletextpad=0.5, columnspacing=1.7, borderpad=0.5,
                 borderaxespad=0)
leg.get_frame().set_linewidth(1.2)

fig.savefig("out.png", dpi=100)
